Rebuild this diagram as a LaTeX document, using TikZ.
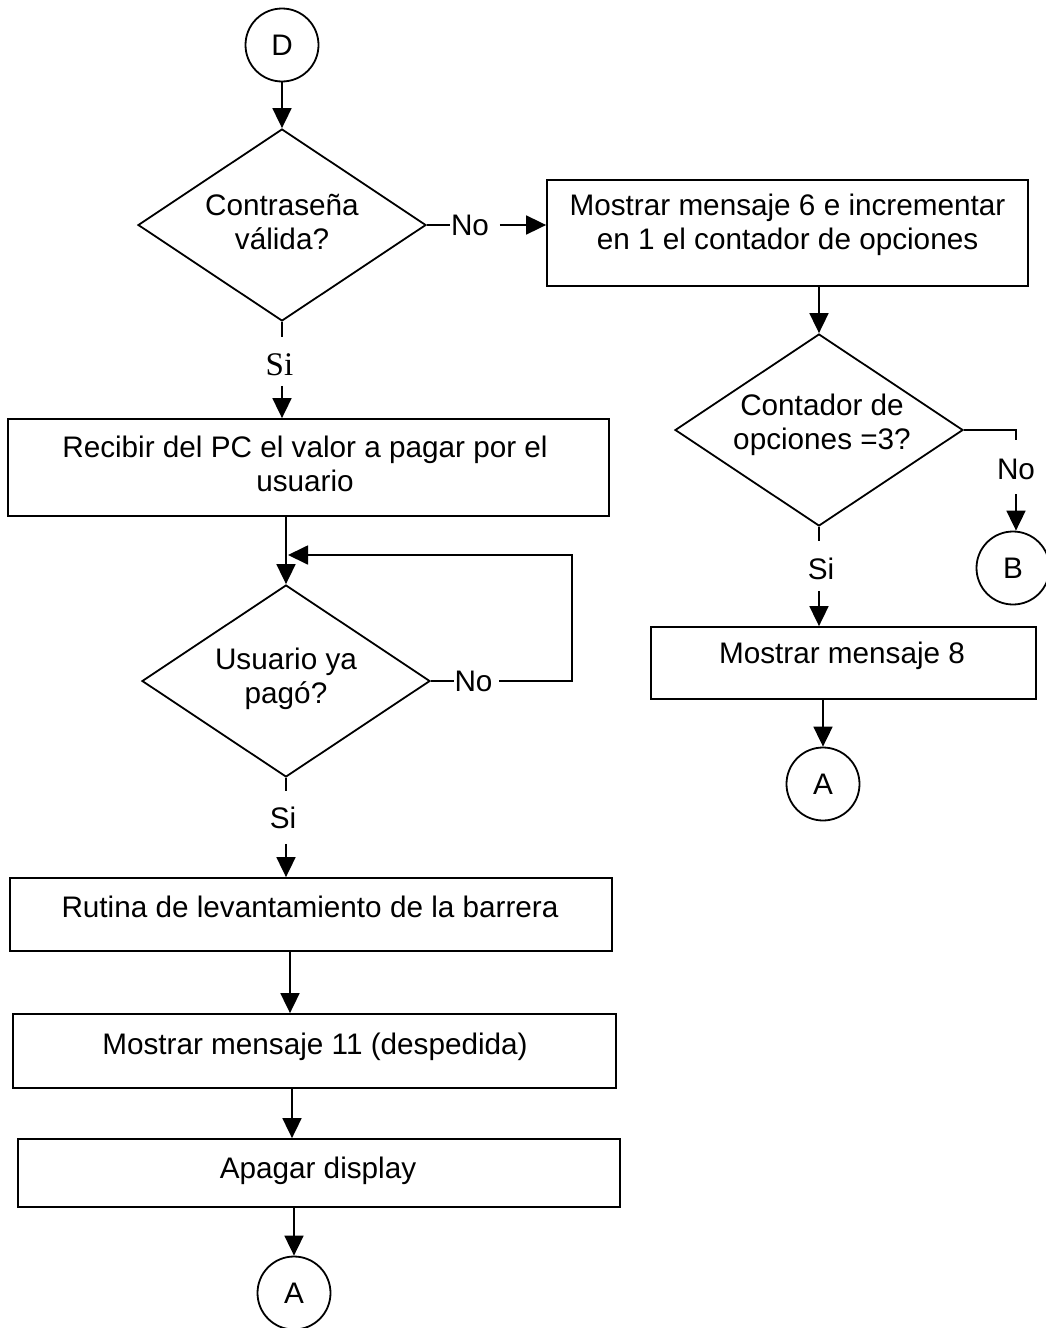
\documentclass[tikz,border=0pt]{standalone}
\usepackage{fontspec}
\setmainfont{Liberation Sans}
\newfontfamily\myserif{Liberation Serif}
\usetikzlibrary{shapes.geometric,arrows.meta}
\begin{document}
\begin{tikzpicture}[x=1pt,y=-1pt,line width=1.8pt,
  font=\fontsize{29.7}{34.5}\selectfont,
  box/.style={draw,rectangle,inner sep=0pt},
  dia/.style={draw,diamond,inner sep=0pt,minimum width=288pt,minimum height=192pt},
  conn/.style={draw,circle,inner sep=0pt,minimum size=73pt},
  txt/.style={align=center,inner sep=0pt},
  lbl/.style={inner sep=0pt},
  seriflbl/.style={inner sep=0pt,font=\myserif\fontsize{33}{38}\selectfont},
  arr/.style={-{Triangle[length=20pt,width=19pt]}}]
\fill[white] (0,0) rectangle (1045,1328);
\useasboundingbox (0,0) rectangle (1045,1328);

% left column
\node[conn] (D) at (282,45) {D};
\node[dia] (d1) at (282,225) {};
\node[txt] (d1t) at (282,222) {Contraseña\\válida?};
\node[lbl] (no1) at (470,225) {No};
\node[seriflbl] (si1) at (279.5,365) {Si};

\node[box,minimum width=601pt,minimum height=97pt] (b2) at (308.5,467.5) {};
\node[txt] (b2t) at (305,464) {Recibir del PC el valor a pagar por el\\usuario};

\node[dia] (d2) at (286,681) {};
\node[txt] (d2t) at (286,679) {Usuario ya\\pagó?};
\node[lbl] (no2) at (473.5,681) {No};
\node[lbl] (si2) at (283,818) {Si};
\coordinate (lpa) at (572,681);
\coordinate (lpb) at (572,555);
\coordinate (lpc) at (288,555);

\node[box,minimum width=602pt,minimum height=73pt] (b3) at (311,914.5) {};
\node[txt] (b3t) at (310,907) {Rutina de levantamiento de la barrera};
\node[box,minimum width=603pt,minimum height=74pt] (b4) at (314.5,1051) {};
\node[txt] (b4t) at (315,1047) {Mostrar mensaje 11 (despedida)};
\node[box,minimum width=602pt,minimum height=68pt] (b5) at (319,1173) {};
\node[txt] (b5t) at (318,1171) {Apagar display};
\node[conn] (A1) at (294,1293) {A};

% right column
\node[box,minimum width=481pt,minimum height=106pt] (b1) at (787.5,233) {};
\node[txt] (b1t) at (787.5,225) {Mostrar mensaje 6 e incrementar\\en 1 el contador de opciones};
\node[dia] (d3) at (819,430) {};
\node[txt] (d3t) at (822,425) {Contador de\\opciones =3?};
\node[lbl] (no3) at (1016,469) {No};
\node[conn] (B) at (1013,568) {B};
\node[lbl] (si3) at (821,569) {Si};
\node[box,minimum width=385pt,minimum height=72pt] (b6) at (843.5,663) {};
\node[txt] (b6t) at (842,656) {Mostrar mensaje 8};
\node[conn] (A2) at (823,784) {A};

% connectors left
\draw[arr] (D) -- (d1.north);
\draw (d1.east) -- (no1.west);
\draw[arr,shorten <=10pt] (no1.east) -- (no1.east -| b1.west);
\draw[shorten >=16.5pt] (d1.south) -- (d1.south |- si1.north);
\draw[arr,shorten <=9pt] (d1.south |- si1.south) -- (d1.south |- b2.north);
\draw[arr] (d2.north |- b2.south) -- (d2.north);
\draw (d2.east) -- (no2.west);
\draw[arr,shorten <=6pt] (no2.east) -- (lpa) -- (lpb) -- (lpc);
\draw[shorten >=15.5pt] (d2.south) -- (d2.south |- si2.north);
\draw[arr,shorten <=14pt] (d2.south |- si2.south) -- (d2.south |- b3.north);
\draw[arr] ([xshift=-21pt]b3.south) -- ([xshift=-21pt]b3.south |- b4.north);
\draw[arr] ([xshift=-22.5pt]b4.south) -- ([xshift=-22.5pt]b4.south |- b5.north);
\draw[arr] (A1 |- b5.south) -- (A1.north);

% connectors right
\draw[arr] (d3.north |- b1.south) -- (d3.north);
\draw[shorten >=17.5pt] (d3.east) -- (no3.north |- d3.east) -- (no3.north);
\draw[arr,shorten <=14pt] (no3.south) -- (no3.south |- B.north);
\draw[shorten >=16.5pt] (d3.south) -- (d3.south |- si3.north);
\draw[arr,shorten <=10.5pt] (d3.south |- si3.south) -- (d3.south |- b6.north);
\draw[arr] (A2 |- b6.south) -- (A2.north);
\end{tikzpicture}
\end{document}
